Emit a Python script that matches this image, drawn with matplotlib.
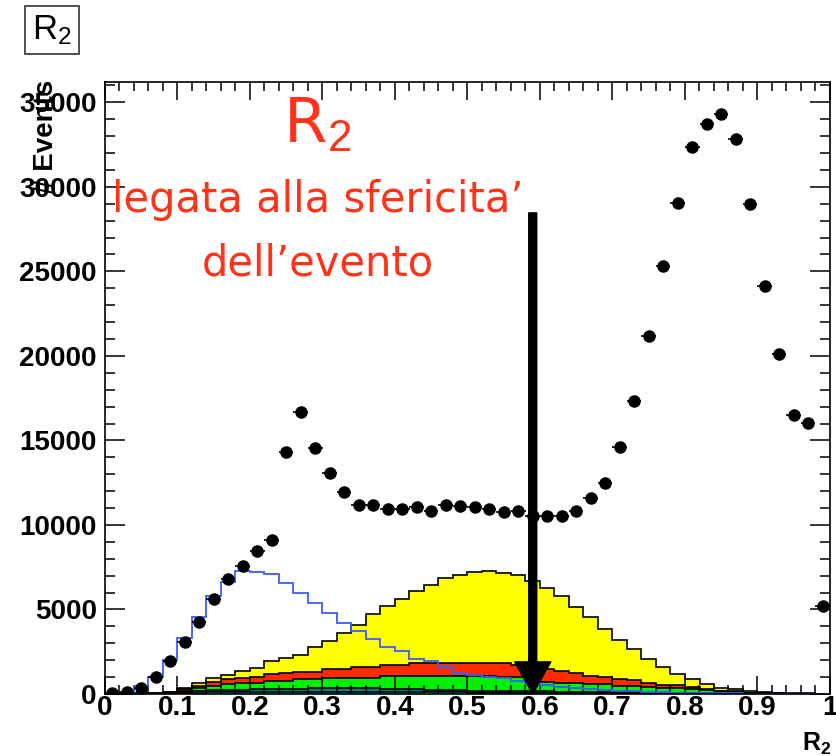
import numpy as np
import matplotlib
matplotlib.use('Agg')
import matplotlib.pyplot as plt
from matplotlib.ticker import MultipleLocator

plt.rcParams['font.family'] = 'Liberation Sans'
plt.rcParams['mathtext.fontset'] = 'custom'
plt.rcParams['mathtext.rm'] = 'Liberation Sans'
plt.rcParams['mathtext.bf'] = 'Liberation Sans:bold'
plt.rcParams['mathtext.it'] = 'Liberation Sans:italic'

# 50 bins of R2 in [0, 1]
edges = np.linspace(0, 1, 51)
centers = 0.5 * (edges[:-1] + edges[1:])

# data
data = [60, 100, 350, 1000, 1950, 3080, 4260, 5620, 6830, 7600,
        8460, 9110, 14320, 16690, 14560, 13080, 11950, 11180, 11180, 10950,
        10950, 11070, 10830, 11180, 11120, 11070, 10950, 10770, 10830, 10530,
        10530, 10530, 10830, 11600, 12490, 14620, 17340, 21150, 25330, 29060,
        32370, 33730, 34320, 32840, 29000, 24140, 20120, 16510, 16040, 5210]

# MC stack, bottom to top
cyan = [0, 0, 5, 10, 15, 50, 80, 90, 100, 100,
        110, 120, 120, 130, 130, 140, 140, 140, 130, 130,
        120, 110, 100, 100, 90, 80, 80, 70, 70, 60,
        60, 60, 50, 50, 40, 40, 40, 30, 30, 25,
        20, 15, 10, 10, 10, 5, 5, 0, 0, 0]
teal = [0, 0, 5, 10, 25, 70, 120, 140, 150, 160,
        170, 180, 190, 190, 200, 200, 200, 200, 200, 190,
        180, 170, 160, 140, 130, 120, 110, 110, 100, 100,
        90, 80, 80, 70, 70, 60, 50, 50, 40, 35,
        30, 25, 20, 15, 10, 10, 5, 5, 5, 0]
green = [0, 5, 10, 20, 40, 70, 135, 240, 320, 370,
         390, 460, 480, 550, 540, 590, 590, 590, 600, 745,
         765, 760, 805, 825, 845, 865, 875, 810, 820, 710,
         580, 530, 540, 470, 480, 370, 380, 320, 290, 275,
         240, 200, 120, 105, 50, 35, 20, 15, 5, 5]
red = [0, 5, 5, 10, 20, 80, 135, 220, 300, 300,
       320, 440, 430, 450, 450, 530, 530, 640, 640, 665,
       670, 785, 785, 785, 785, 785, 785, 820, 710, 710,
       730, 710, 550, 475, 400, 400, 360, 270, 200, 175,
       110, 80, 30, 20, 10, 10, 10, 5, 5, 5]
yellow = [0, 0, 5, 10, 20, 70, 200, 240, 230, 430,
          530, 770, 910, 990, 1480, 1700, 2170, 2540, 3150, 3480,
          3870, 4250, 4620, 4990, 5210, 5370, 5430, 5370, 5340, 5130,
          4790, 4420, 3950, 3480, 2840, 2330, 1810, 1380, 1020, 670,
          470, 270, 190, 130, 120, 60, 40, 25, 15, 10]

# signal shape (outline only)
blue = [0, 80, 470, 1000, 2010, 3310, 4560, 5800, 6630, 7280,
        7220, 7100, 6590, 5990, 5360, 4770, 4220, 3710, 3240, 2760,
        2530, 2050, 1930, 1580, 1260, 1120, 1020, 930, 790, 670,
        530, 430, 370, 310, 240, 180, 150, 120, 100, 80,
        60, 50, 40, 30, 25, 20, 15, 10, 10, 5]

xticks = [0, 0.1, 0.2, 0.3, 0.4, 0.5, 0.6, 0.7, 0.8, 0.9, 1.0]
xticklabels = ['0', '0.1', '0.2', '0.3', '0.4', '0.5', '0.6', '0.7', '0.8', '0.9', '1']
yticks = [0, 5000, 10000, 15000, 20000, 25000, 30000, 35000]
yticklabels = ['0', '5000', '10000', '15000', '20000', '25000', '30000', '35000']

cut_x = 0.59
cut_top = 28460

fig = plt.figure(figsize=(8.37, 7.56), dpi=100)
ax = fig.add_axes([105 / 837, 1 - 694 / 756, 725 / 837, 612 / 756])

layers = [(cyan, '#00e8f0'), (teal, '#008080'), (green, '#00f000'),
          (red, '#ff2a00'), (yellow, '#ffff00')]
base = np.zeros(len(centers))
for vals, col in layers:
    top = base + np.array(vals)
    ax.stairs(top, edges, baseline=base, fill=True, color=col, lw=0, zorder=1)
    ax.stairs(top, edges, baseline=None, color='black', lw=1.2, zorder=1.5)
    base = top

ax.stairs(blue, edges, baseline=None, color='#3a5cff', lw=1.3, zorder=1.8)

ax.errorbar(centers, data, xerr=0.01, yerr=np.sqrt(data), fmt='o', color='black',
            ms=8, elinewidth=1.2, capsize=0, zorder=5)

# cut arrow
ax.arrow(cut_x, cut_top, 0, -cut_top, width=0.011, head_width=0.05, head_length=1900,
         length_includes_head=True, color='black', zorder=6)

ax.set_xlim(0, 1)
ax.set_ylim(0, 36200)
ax.set_xticks(xticks, labels=xticklabels, fontsize=20, fontweight='bold')
ax.set_yticks(yticks, labels=yticklabels, fontsize=20, fontweight='bold')
ax.xaxis.set_minor_locator(MultipleLocator(0.02))
ax.yaxis.set_minor_locator(MultipleLocator(1000))
ax.tick_params(which='both', direction='in', top=True, right=True, width=1.1)
ax.tick_params(axis='x', which='major', length=13, pad=1)
ax.tick_params(axis='x', which='minor', length=6.5)
ax.tick_params(axis='y', which='major', length=14.5, pad=6)
ax.tick_params(axis='y', which='minor', length=7)
for s in ax.spines.values():
    s.set_linewidth(1.2)

fig.text(46 / 837, 1 - 80 / 756, '# Events', rotation=90, ha='center', va='top',
         fontsize=20, fontweight='bold')
fig.text(831 / 837, 1 - 731 / 756, r'R$_\mathbf{2}$', ha='right', va='top',
         fontsize=18, fontweight='bold')

fig.text(52 / 837, 1 - 30 / 756, r'R$_2$', ha='center', va='center', fontsize=25,
         bbox=dict(boxstyle='square,pad=0.2', fc='white', ec='#333333', lw=1.2))

red_txt = '#ff3319'
fig.text(0.3793, 1 - 142 / 756, r'R$_2$', color=red_txt, fontsize=45, ha='center',
         va='baseline', family='DejaVu Sans')
fig.text(0.3793, 1 - 212 / 756, 'legata alla sfericita\u2019', color=red_txt, fontsize=30,
         ha='center', va='baseline', family='DejaVu Sans')
fig.text(0.3793, 1 - 275 / 756, 'dell\u2019evento', color=red_txt, fontsize=30,
         ha='center', va='baseline', family='DejaVu Sans')

fig.savefig('out.png', dpi=100)
